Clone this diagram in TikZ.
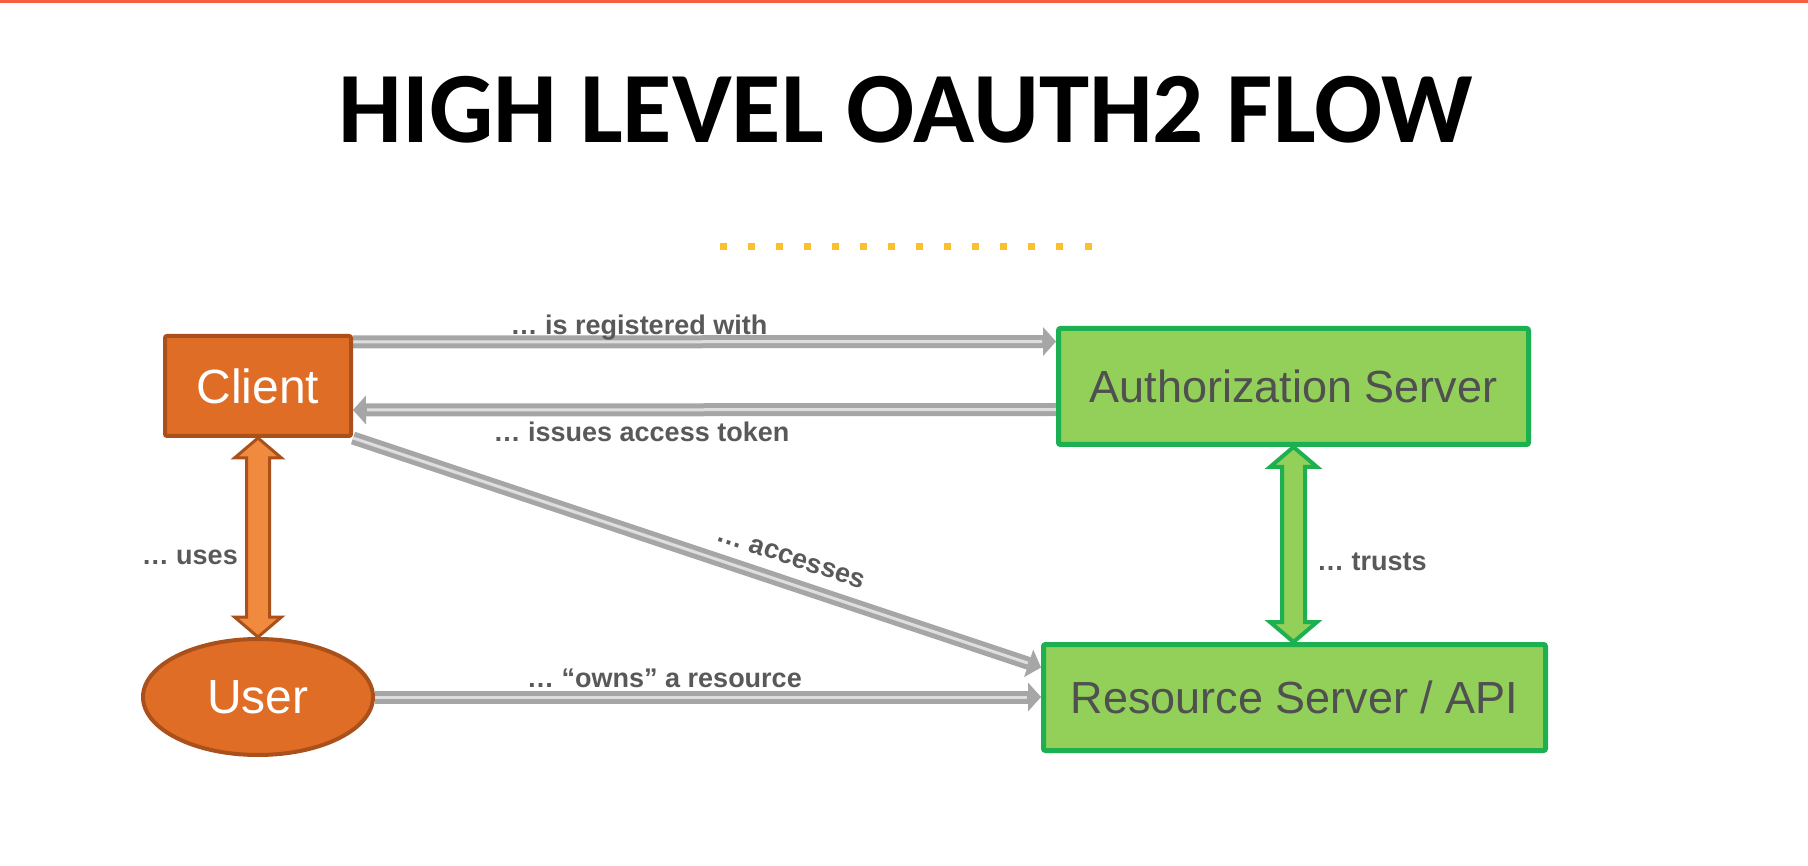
\documentclass[tikz,border=0pt]{standalone}
\usepackage{fontspec}
\setmainfont{Liberation Sans}
\newfontfamily\titlefont{Carlito}
\usetikzlibrary{arrows.meta,calc,shapes.geometric,backgrounds}
\definecolor{topred}{RGB}{247,94,62}
\definecolor{dotcol}{RGB}{251,192,45}
\definecolor{orfill}{RGB}{224,109,38}
\definecolor{ordraw}{RGB}{170,80,27}
\definecolor{orarrow}{RGB}{240,138,62}
\definecolor{grfill}{RGB}{146,208,90}
\definecolor{grdraw}{RGB}{29,176,80}
\definecolor{arrgray}{RGB}{166,166,166}
\definecolor{arrlight}{RGB}{222,222,222}
\definecolor{lblgray}{RGB}{89,89,89}
\definecolor{boxtext}{RGB}{80,80,80}
\newcommand{\blockdarrow}[3]{%
  \draw[#1] (#2) -- ($(#2)+(23.5,20)$) -- ($(#2)+(11.5,20)$) -- ($(#3)+(11.5,-20)$) -- ($(#3)+(23.5,-20)$) -- (#3) -- ($(#3)+(-23.5,-20)$) -- ($(#3)+(-11.5,-20)$) -- ($(#2)+(-11.5,20)$) -- ($(#2)+(-23.5,20)$) -- cycle;}
\begin{document}
\begin{tikzpicture}[x=1pt,y=-1pt,
  orangebox/.style={draw=ordraw,fill=orfill,line width=4,rounded corners=2,text=white,font=\fontsize{48}{56}\selectfont,inner sep=0},
  orangeell/.style={ellipse,draw=ordraw,fill=orfill,line width=4,text=white,font=\fontsize{48}{56}\selectfont,inner sep=0},
  greenbox/.style={draw=grdraw,fill=grfill,line width=5,rounded corners=2,text=boxtext,font=\fontsize{45}{52}\selectfont,inner sep=0},
  graybar/.style={draw=arrgray,line width=13,-{Triangle[length=13pt,width=29pt,line width=0pt]}},
  graystripe/.style={draw=arrlight,line width=3,shorten >=14pt},
  lbl/.style={text=lblgray,font=\bfseries\fontsize{27}{32}\selectfont,inner sep=0},
  orarr/.style={draw=ordraw,fill=orarrow,line width=3,line join=miter},
  grarr/.style={draw=grdraw,fill=grfill,line width=4,line join=miter}]
\useasboundingbox (0,0) rectangle (1808,866);
\node[orangebox,minimum width=186,minimum height=100] (client) at (258,386) {Client};
\node[orangeell,minimum width=230,minimum height=116] (user) at (258,697) {User};
\node[greenbox,minimum width=470,minimum height=116] (auth) at (1293.5,386.5) {Authorization Server};
\node[greenbox,minimum width=502,minimum height=106] (res) at (1294.5,697.5) {Resource Server / API};
\node[anchor=base,inner sep=0,font=\titlefont\bfseries\fontsize{101}{112}\selectfont] (title) at (905.5,143) {HIGH LEVEL OAUTH2 FLOW};
\begin{pgfonlayer}{background}
  \fill[white] (0,0) rectangle (1808,866);
  \draw[topred,line width=3] (0,1.5) -- (1808,1.5);
  \foreach \i in {0,...,13} \fill[dotcol] ({719.5+28.08*\i},243.5) rectangle ++(7,7);
  \coordinate (regA) at ($(client.north east)+(0,8)$);
  \coordinate (regB) at ($(auth.north west)+(0,15.5)$);
  \coordinate (issA) at ($(auth.north west)+(0,83.5)$);
  \coordinate (issB) at ($(client.north east)+(0,76)$);
  \coordinate (accB) at ($(res.north west)+(0,25.5)$);
  \coordinate (ownB) at (user.east -| res.west);
  \draw[graybar] (regA) -- (regB);
  \draw[graystripe] (regA) -- (regB);
  \draw[graybar] (issA) -- (issB);
  \draw[graystripe] (issA) -- (issB);
  \draw[graybar] (client.south east) -- node[lbl,sloped,above=11,pos=0.625] (acclbl) {… accesses} (accB);
  \draw[graystripe] (client.south east) -- (accB);
  \draw[graybar] (user.east) -- (ownB);
  \draw[graystripe] (user.east) -- (ownB);
\end{pgfonlayer}
\blockdarrow{orarr}{client.south}{user.north}
\coordinate (trB) at (auth.south |- res.north);
\blockdarrow{grarr}{auth.south}{trB}
\node[lbl,anchor=base] (reglbl) at (639,335) {… is registered with};
\node[lbl,anchor=base] (isslbl) at (641.5,442) {… issues access token};
\node[lbl,anchor=base] (ownlbl) at (664.5,687) {… “owns” a resource};
\node[lbl,anchor=base east] (useslbl) at (238,564) {… uses};
\node[lbl,anchor=base west] (trustlbl) at (1317,570) {… trusts};
\end{tikzpicture}
\end{document}
